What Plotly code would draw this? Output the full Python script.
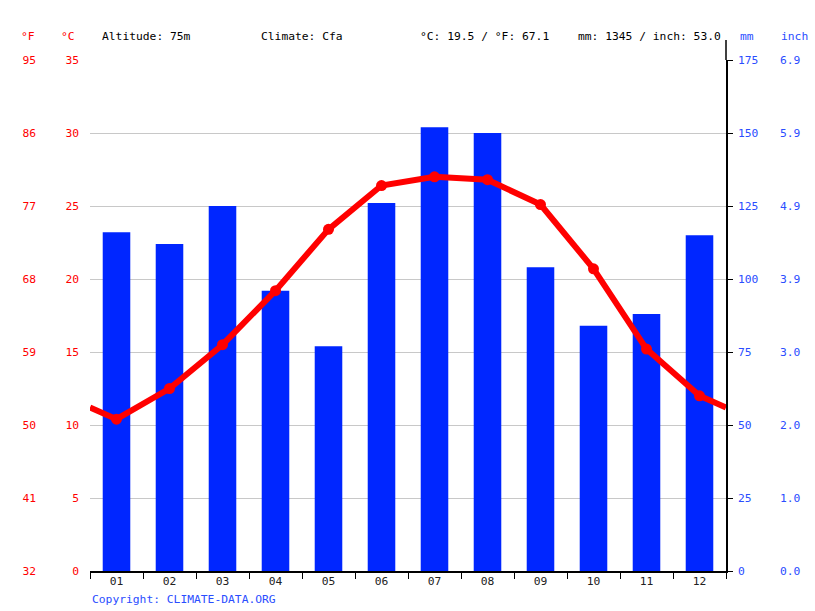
import plotly.graph_objects as go

months = ["01", "02", "03", "04", "05", "06", "07", "08", "09", "10", "11", "12"]
temp_c = [10.4, 12.5, 15.5, 19.2, 23.4, 26.4, 27.0, 26.8, 25.1, 20.7, 15.2, 12.0]
precip_mm = [116, 112, 125, 96, 77, 126, 152, 150, 104, 84, 88, 115]

c_ticks = [0, 5, 10, 15, 20, 25, 30, 35]
f_ticks = [32, 41, 50, 59, 68, 77, 86, 95]
mm_ticks = [0, 25, 50, 75, 100, 125, 150, 175]

header_alt = "Altitude: 75m"
header_clim = "Climate: Cfa"
header_temp = "°C: 19.5 / °F: 67.1"
header_prec = "mm: 1345 / inch: 53.0"

W, H = 815, 611
L, R, T, B = 90, 89, 60, 40
pw, ph = W - L - R, H - T - B

RED = "#ff0000"
BLUE = "#0026ff"
LBLUE = "#2a4dff"
FONT = "DejaVu Sans Mono"
FS = 11.3

xs = list(range(1, 13))
wrap = (temp_c[0] + temp_c[-1]) / 2.0

fig = go.Figure()
# bars on the primary (mm) axis so the temperature line is drawn above them
fig.add_trace(go.Bar(x=xs, y=precip_mm, width=0.52, marker=dict(color=BLUE, line=dict(width=0)),
                     yaxis="y", showlegend=False, hoverinfo="skip"))
fig.add_trace(go.Scatter(x=[1], y=[0], mode="markers", marker=dict(opacity=0),
                         yaxis="y4", showlegend=False, hoverinfo="skip"))
fig.add_trace(go.Scatter(x=[1], y=[f_ticks[0]], mode="markers", marker=dict(opacity=0),
                         yaxis="y3", showlegend=False, hoverinfo="skip"))
fig.add_trace(go.Scatter(x=[0.5] + xs + [12.5], y=[wrap] + temp_c + [wrap], mode="lines",
                         line=dict(color=RED, width=6), yaxis="y2", showlegend=False, hoverinfo="skip"))
fig.add_trace(go.Scatter(x=xs, y=temp_c, mode="markers", marker=dict(color=RED, size=11),
                         yaxis="y2", showlegend=False, hoverinfo="skip"))

tickfont_red = dict(family=FONT, size=FS, color=RED)
tickfont_blue = dict(family=FONT, size=FS, color=LBLUE)

fig.update_layout(
    width=W, height=H,
    margin=dict(l=L, r=R, t=T, b=B, pad=0),
    paper_bgcolor="white", plot_bgcolor="white",
    font=dict(family=FONT, size=FS, color="black"),
    xaxis=dict(range=[0.5, 12.5], tickvals=xs, ticktext=months, ticks="",
               showgrid=False, zeroline=False, showline=True, linecolor="black", linewidth=1.5,
               tickfont=dict(family=FONT, size=FS, color="#222222"), ticklabelstandoff=-1,
               minor=dict(tick0=0.5, dtick=1, ticks="outside", ticklen=6, tickcolor="black", tickwidth=1.2, showgrid=False)),
    yaxis=dict(range=[0, 175], tickvals=mm_ticks, side="right", anchor="x",
               showgrid=True, gridcolor="#c8c8c8", gridwidth=1, zeroline=False,
               showline=True, linecolor="black", linewidth=1.5,
               ticks="outside", ticklen=5, tickcolor="black", tickfont=tickfont_blue, ticklabelstandoff=3),
    yaxis2=dict(range=[0, 35], tickvals=c_ticks, overlaying="y", side="left", anchor="x", ticks="",
                showgrid=False, zeroline=False, showline=False, tickfont=tickfont_red, ticklabelstandoff=10),
    yaxis3=dict(range=[f_ticks[0], f_ticks[-1]], tickvals=f_ticks, overlaying="y", side="left", anchor="x",
                showgrid=False, zeroline=False, showline=False, ticks="", tickfont=tickfont_red,
                ticklabelstandoff=53),
    yaxis4=dict(range=[0, mm_ticks[-1] / 25.4], tickvals=[m / 25.4 for m in mm_ticks],
                ticktext=[f"{m / 25.4:.1f}" for m in mm_ticks], overlaying="y", side="right", anchor="x",
                showgrid=False, zeroline=False, showline=False, ticks="", tickfont=tickfont_blue,
                ticklabelstandoff=53),
)

def px_x(px):
    return (px - L) / pw

def px_y(py):
    return (H - B - py) / ph

hy = px_y(36)
anns = [
    ("°F", 37, "right", RED),
    ("°C", 77, "right", RED),
    (header_alt, 100, "left", "black"),
    (header_clim, 259, "left", "black"),
    (header_temp, 418, "left", "black"),
    (header_prec, 576, "left", "black"),
    ("mm", 738, "left", LBLUE),
    ("inch", 779, "left", LBLUE),
]
for text, px, anchor, col in anns:
    fig.add_annotation(text=text, x=px_x(px), y=hy, xref="paper", yref="paper", xanchor=anchor,
                       yanchor="middle", showarrow=False, font=dict(family=FONT, size=FS, color=col))
fig.add_annotation(text="Copyright: CLIMATE-DATA.ORG", x=0, y=px_y(599), xref="paper", yref="paper",
                   xanchor="left", yanchor="middle", showarrow=False, font=dict(family=FONT, size=FS, color=LBLUE))

# right axis line extends above plot area
fig.add_shape(type="line", xref="paper", yref="paper", x0=1, x1=1, y0=1, y1=px_y(40),
              line=dict(color="black", width=1.5))

fig.write_html("out.html")
